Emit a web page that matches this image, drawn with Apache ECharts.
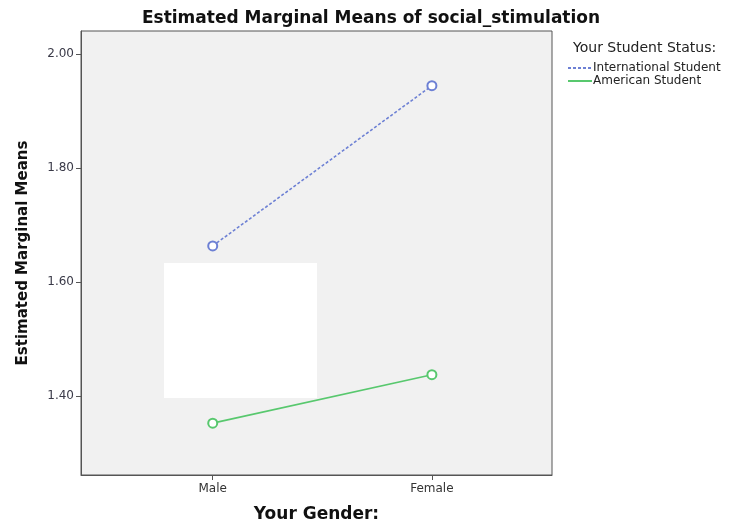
<!DOCTYPE html>
<html>
<head>
<meta charset="utf-8">
<script src="https://cdn.jsdelivr.net/npm/echarts@6/dist/echarts.min.js"></script>
<style>
  html, body { margin: 0; padding: 0; background: #fff; }
  #chart { width: 730px; height: 523px; }
</style>
</head>
<body>
<div id="chart"></div>
<script>
// gender categories sit at x = 1 and 2 on a value axis
const genders = ['Male', 'Female']
const genderPos = [1, 2]
const yTicks = [1.40, 1.60, 1.80, 2.00]

const international = [1.663, 1.944]
const american = [1.352, 1.437]

const fontFamily = '"DejaVu Sans", Verdana, sans-serif'

const chart = echarts.init(document.getElementById('chart'))

chart.setOption({
  animation: false,
  backgroundColor: '#fff',
  textStyle: { fontFamily },
  title: [{
    text: 'Estimated Marginal Means of social_stimulation',
    left: 366,
    top: 5,
    textAlign: 'center',
    textStyle: { fontSize: 17, fontWeight: 'bold', color: '#111', fontFamily }
  }, {
    text: 'Your Student Status:',
    left: 568,
    top: 36,
    textStyle: { fontSize: 14, fontWeight: 'normal', color: '#222', fontFamily }
  }],
  legend: {
    orient: 'vertical',
    left: 562,
    top: 57,
    itemGap: 1,
    itemWidth: 24,
    itemHeight: 10,
    itemStyle: { opacity: 0 },
    textStyle: { fontSize: 12, color: '#222', padding: [0, 0, 0, -4] },
    data: ['International Student', 'American Student']
  },
  grid: {
    left: 81,
    top: 31,
    width: 471,
    height: 444,
    outerBoundsMode: 'none',
    containLabel: false,
    show: true,
    backgroundColor: '#f1f1f1',
    borderColor: '#555',
    borderWidth: 1
  },
  xAxis: {
    type: 'value',
    min: 0.399,
    max: 2.548,
    name: 'Your Gender:',
    nameLocation: 'middle',
    nameGap: 31,
    nameTextStyle: { fontSize: 17, fontWeight: 'bold', color: '#111' },
    splitLine: { show: false },
    axisLine: { show: true, lineStyle: { color: '#555' } },
    axisTick: { show: true, length: 5, customValues: genderPos, lineStyle: { color: '#555' } },
    axisLabel: {
      customValues: genderPos,
      fontSize: 12,
      color: '#333',
      margin: 8,
      formatter: v => genders[genderPos.indexOf(Math.round(v))] || ''
    }
  },
  yAxis: {
    type: 'value',
    min: 1.261,
    max: 2.04,
    name: 'Estimated Marginal Means',
    nameLocation: 'middle',
    nameGap: 50,
    nameTextStyle: { fontSize: 15, fontWeight: 'bold', color: '#111' },
    splitLine: { show: false },
    axisLine: { show: true, lineStyle: { color: '#555' } },
    axisTick: { show: true, length: 5, customValues: yTicks, lineStyle: { color: '#555' } },
    axisLabel: {
      customValues: yTicks,
      fontSize: 12,
      color: '#3a3a48',
      margin: 7,
      formatter: v => v.toFixed(2)
    }
  },
  graphic: [{
    // white patch covering part of the plot in the source image
    type: 'rect',
    z: 1,
    shape: { x: 164, y: 263, width: 153, height: 135 },
    style: { fill: '#fff' }
  }],
  series: [{
    name: 'International Student',
    type: 'line',
    z: 3,
    data: genderPos.map((x, i) => [x, international[i]]),
    symbol: 'emptyCircle',
    symbolSize: 9,
    color: '#6d80d4',
    lineStyle: { type: [3, 2], width: 1.6, color: '#6d80d4' },
    itemStyle: { color: '#6d80d4', borderWidth: 1.6 }
  }, {
    name: 'American Student',
    type: 'line',
    z: 3,
    data: genderPos.map((x, i) => [x, american[i]]),
    symbol: 'emptyCircle',
    symbolSize: 9,
    color: '#58c86e',
    lineStyle: { type: 'solid', width: 1.6, color: '#58c86e' },
    itemStyle: { color: '#58c86e', borderWidth: 1.6 }
  }]
})
</script>
</body>
</html>
